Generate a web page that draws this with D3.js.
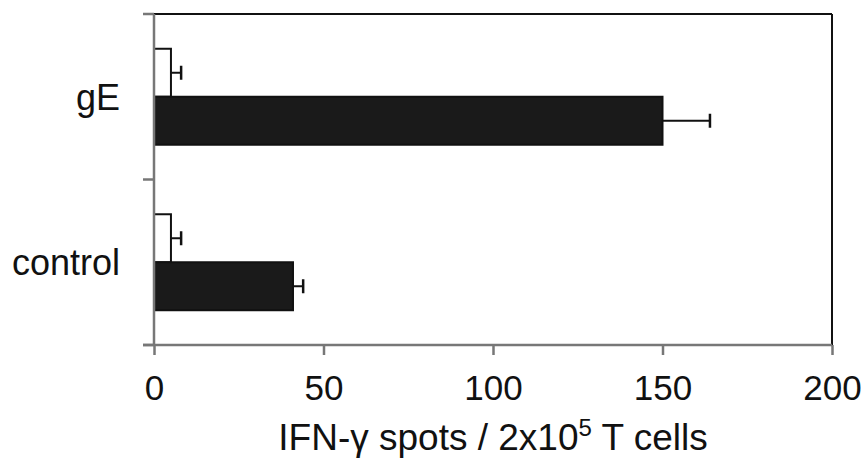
<!DOCTYPE html>
<html>
<head>
<meta charset="utf-8">
<script src="https://cdn.jsdelivr.net/npm/d3@7"></script>
<style>
  html, body { margin: 0; padding: 0; background: #fff; }
  svg { display: block; font-family: "Liberation Sans", Arial, Helvetica, sans-serif; }
</style>
</head>
<body>
<svg id="chart" width="862" height="460"></svg>
<script>
// ---- data ----
const categories = ["gE", "control"];
const seriesNames = ["open", "filled"];
const openValues = [5, 5];
const openErrors = [3, 3];
const filledValues = [150, 41];
const filledErrors = [14, 3];
const xTicks = [0, 50, 100, 150, 200];
const xTitle = "IFN-\u03B3 spots / 2x10";
const xTitleSup = "5";
const xTitleEnd = " T cells";

const W = 862, H = 460;
const margin = { top: 14, right: 30, bottom: 115, left: 154 };
const svg = d3.select("#chart");

const x = d3.scaleLinear().domain([0, 200]).range([margin.left, W - margin.right]);
const y = d3.scaleBand().domain(categories).range([margin.top, H - margin.bottom])
  .paddingInner(0.42).paddingOuter(0.21);
const ySub = d3.scaleBand().domain(seriesNames).range([0, y.bandwidth()]);

const rows = categories.map((c, i) => ({
  cat: c,
  bars: [
    { s: "open", v: openValues[i], e: openErrors[i], fill: "#ffffff" },
    { s: "filled", v: filledValues[i], e: filledErrors[i], fill: "#1a1a1a" }
  ]
}));

// frame: top and right borders (black)
const x0 = x(0), x1 = x(200), yTop = y.range()[0], yBot = y.range()[1];
svg.append("line").attr("x1", x0).attr("x2", x1).attr("y1", yTop).attr("y2", yTop)
  .attr("stroke", "#111").attr("stroke-width", 2);
svg.append("line").attr("x1", x1).attr("x2", x1).attr("y1", yTop).attr("y2", yBot)
  .attr("stroke", "#111").attr("stroke-width", 2);

// bars
const g = svg.append("g");
rows.forEach(r => {
  r.bars.forEach(b => {
    const yb = y(r.cat) + ySub(b.s);
    const h = ySub.bandwidth();
    g.append("rect")
      .attr("x", x(0)).attr("y", yb)
      .attr("width", x(b.v) - x(0)).attr("height", h)
      .attr("fill", b.fill).attr("stroke", "#111").attr("stroke-width", 2);
    const cy = yb + h / 2;
    g.append("line").attr("x1", x(b.v)).attr("x2", x(b.v + b.e))
      .attr("y1", cy).attr("y2", cy).attr("stroke", "#111").attr("stroke-width", 2);
    g.append("line").attr("x1", x(b.v + b.e)).attr("x2", x(b.v + b.e))
      .attr("y1", cy - 7).attr("y2", cy + 7).attr("stroke", "#111").attr("stroke-width", 2.5);
  });
});

// bottom axis (gray)
const xAxis = d3.axisBottom(x).tickValues(xTicks).tickSize(10).tickPadding(20).tickSizeOuter(0);
const gx = svg.append("g").attr("transform", `translate(0,${yBot})`).call(xAxis);
gx.select(".domain").attr("stroke", "#777").attr("stroke-width", 2.5)
  .attr("d", `M${x0 - 11},0H${x1}`);
gx.selectAll(".tick line").attr("stroke", "#777").attr("stroke-width", 2.5);
gx.selectAll(".tick text").attr("fill", "#111").style("font-size", "35px")
  .style("font-family", '"Liberation Sans", Arial, sans-serif');

// left axis (gray) with ticks at category boundaries
const step = y.step();
const edges = [yTop, ...categories.slice(1).map(c => y(c) - step * y.paddingInner() / 2), yBot];
svg.append("line").attr("x1", x0).attr("x2", x0).attr("y1", yTop).attr("y2", yBot)
  .attr("stroke", "#777").attr("stroke-width", 2.5);
svg.selectAll(".ytick").data(edges).enter().append("line")
  .attr("x1", x0 - 11).attr("x2", x0).attr("y1", d => d).attr("y2", d => d)
  .attr("stroke", "#777").attr("stroke-width", 2.5);

// category labels
svg.selectAll(".cat").data(categories).enter().append("text")
  .attr("x", x0 - 34).attr("y", d => y(d) + y.bandwidth() / 2)
  .attr("dy", "0.36em").attr("text-anchor", "end")
  .attr("fill", "#111").style("font-size", "36px").text(d => d);

// x title
const t = svg.append("text").attr("x", (x0 + x1) / 2).attr("y", 450)
  .attr("text-anchor", "middle").attr("fill", "#111").style("font-size", "37px");
t.append("tspan").text(xTitle);
t.append("tspan").attr("dy", -14).style("font-size", "24px").text(xTitleSup);
t.append("tspan").attr("dy", 14).text(xTitleEnd);
</script>
</body>
</html>
